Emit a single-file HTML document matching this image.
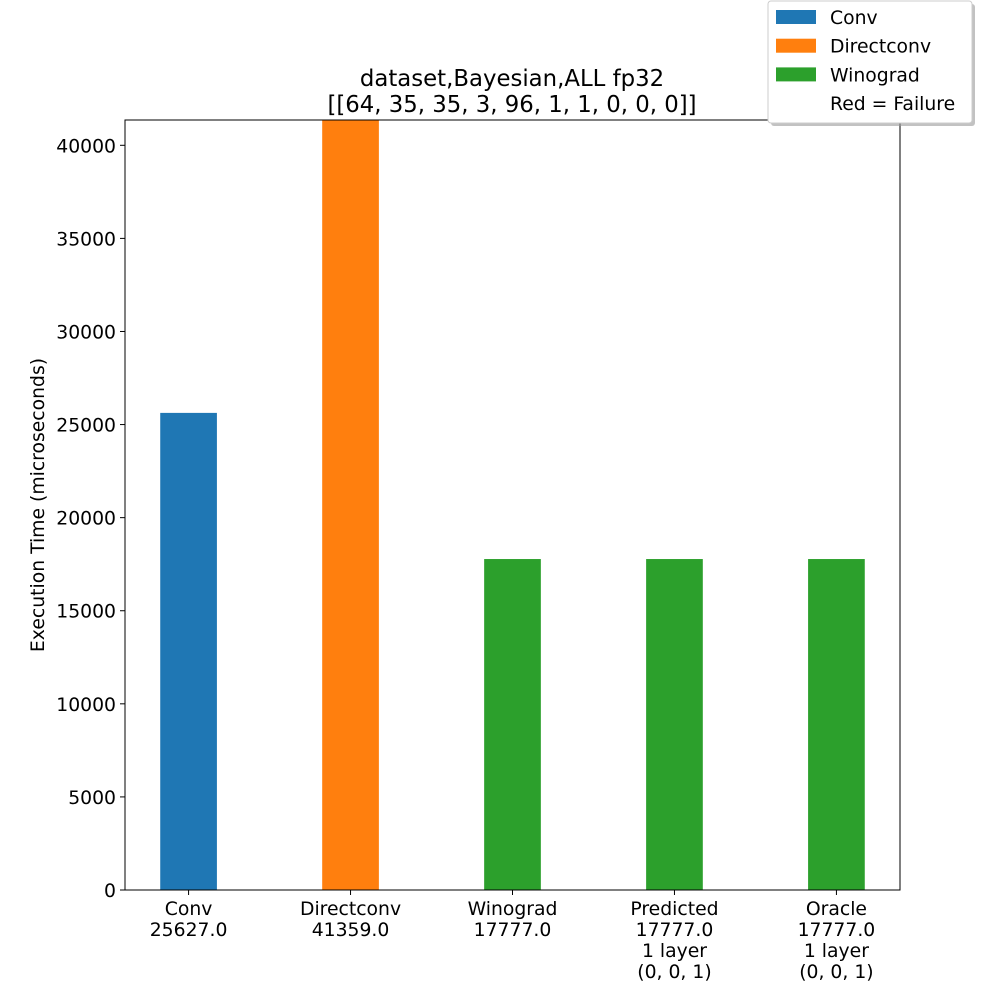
<!DOCTYPE html>
<html><head><meta charset="utf-8"><style>
body{margin:0;background:#fff;}
svg{font-family:"DejaVu Sans","Liberation Sans",sans-serif;}
</style></head><body>
<svg id="chart" width="1000" height="1000" xmlns="http://www.w3.org/2000/svg">
<rect width="1000" height="1000" fill="#fff"/>
<g id="plot"></g>
</svg>
<script>
const categories=["Conv\n25627.0","Directconv\n41359.0","Winograd\n17777.0","Predicted\n17777.0\n1 layer\n(0, 0, 1)","Oracle\n17777.0\n1 layer\n(0, 0, 1)"];
const values=[25627,41359,17777,17777,17777];
const colors=["#1f77b4","#ff7f0e","#2ca02c","#2ca02c","#2ca02c"];
const yTicks=[0,5000,10000,15000,20000,25000,30000,35000,40000];
const legendLabels=["Conv","Directconv","Winograd","Red = Failure"];
const legendColors=["#1f77b4","#ff7f0e","#2ca02c","none"];

const NS="http://www.w3.org/2000/svg";
const L=125,R=900,T=120,B=890;
const yMax=Math.max(...values);
const barW=0.35;
const xMin=-barW/2-0.05*(categories.length-1+barW), xMax=categories.length-1+barW/2+0.05*(categories.length-1+barW);
const xs=v=>L+(v-xMin)/(xMax-xMin)*(R-L);
const ys=v=>B-v/yMax*(B-T);
const g=document.getElementById('plot');
function mk(tag,attrs,parent){const e=document.createElementNS(NS,tag);for(const k in attrs)e.setAttribute(k,attrs[k]);(parent||g).appendChild(e);return e;}
const FS=18.8;
values.forEach((v,i)=>{
  const r=mk('rect',{x:xs(i-barW/2),y:ys(v),width:xs(barW)-xs(0),height:B-ys(v),fill:colors[i]});
  
  
  const t=mk('text',{x:xs(i),y:B+25,'font-size':FS,'text-anchor':'middle',fill:'#000'});
  
  
  categories[i].split('\n').forEach((s,j)=>{const sp=mk('tspan',{x:xs(i),dy:j?21:0},t);sp.textContent=s;});
  mk('line',{x1:xs(i),x2:xs(i),y1:B,y2:B+5,stroke:'#000'});
});
yTicks.forEach(v=>{
  mk('line',{x1:L-5,x2:L,y1:ys(v),y2:ys(v),stroke:'#000'});
  const t=mk('text',{x:L-9,y:ys(v)+7,'font-size':FS,'text-anchor':'end'});
  
  
  t.textContent=v;
});
const fr=mk('rect',{x:L,y:T,width:R-L,height:B-T,fill:'none',stroke:'#000','stroke-width':1});


const yt=mk('text',{x:44,y:505,'font-size':FS,'text-anchor':'middle',transform:'rotate(-90 44 505)'});


yt.textContent='Execution Time (microseconds)';
[["dataset,Bayesian,ALL fp32",86],["[[64, 35, 35, 3, 96, 1, 1, 0, 0, 0]]",112]].forEach(([s,y])=>{
  const t=mk('text',{x:512,y:y,'font-size':22.8,'text-anchor':'middle'});
  
  
  t.textContent=s;
});
mk('rect',{x:771,y:4,width:204,height:122,rx:3,fill:'#999',opacity:0.6});
const lb=mk('rect',{x:768,y:1,width:204,height:122,rx:3,fill:'#fff',stroke:'#ccc'});


legendLabels.forEach((s,i)=>{
  const y=17+i*28.7;
  if(legendColors[i]!=='none')mk('rect',{x:776,y:y-7,width:40,height:14,fill:legendColors[i]});
  const t=mk('text',{x:830,y:y+7,'font-size':FS});
  
  
  t.textContent=s;
});
</script>
</body></html>
